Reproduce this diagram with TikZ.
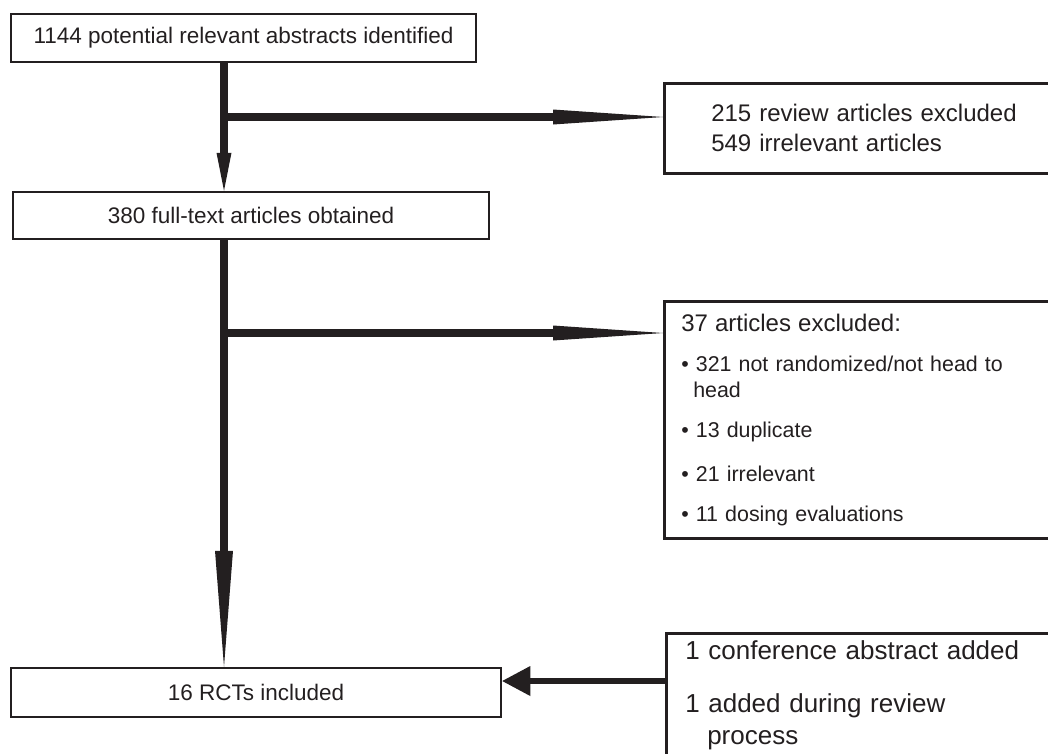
\documentclass[tikz,border=0pt]{standalone}
\usepackage{fontspec}
\setmainfont{Liberation Sans}
\usepackage{tikz}
\usetikzlibrary{arrows.meta}
\definecolor{ink}{HTML}{231F20}

\begin{document}
\begin{tikzpicture}[x=1pt,y=-1pt]
	\tikzstyle{box}=[rectangle,draw=ink,line width=2.5pt,inner sep=0pt,text=ink,font=\fontsize{22.5}{27}\selectfont]
	\tikzstyle{sidebox}=[box,anchor=north west,align=left,font=\fontsize{24}{30}\selectfont]
	\tikzstyle{flow}=[draw=ink,line width=8pt]
	\tikzstyle{shorttip}=[-{Triangle[length=38pt,width=15pt,line width=0pt]}]
	\tikzstyle{longtip}=[-{Triangle[length=116pt,width=18pt,line width=0pt]}]
	\tikzstyle{sidetip}=[-{Triangle[length=110pt,width=15pt,line width=0pt]}]
	\useasboundingbox (0,0) rectangle (1048,753);
	\clip (0,0) rectangle (1048,753);
	\node (abstracts) at (243.5,38) [box,minimum width=465pt,minimum height=48pt] {1144 potential relevant abstracts identified};
	\node (fulltext) at (251,215.5) [box,minimum width=476pt,minimum height=47pt] {380 full-text articles obtained};
	\node (included) at (256,692.5) [box,minimum width=490pt,minimum height=49pt] {16 RCTs included};
	\node (review) at (663,82) [sidebox,text width=330pt,minimum height=90pt,inner xsep=47pt] {215 review articles excluded\\549 irrelevant articles};
	\node (excluded) at (663,300) [sidebox,text width=360pt,minimum height=237pt,inner xsep=17pt,font=\fontsize{21.4}{26}\selectfont] {
		{\fontsize{24}{26}\selectfont 37 articles excluded:}\\[14pt]
		\textbullet\ 321 not randomized/not head to\\
		\hspace*{12pt}head\\[14pt]
		\textbullet\ 13 duplicate\\[18pt]
		\textbullet\ 21 irrelevant\\[14pt]
		\textbullet\ 11 dosing evaluations
	};
	\node (added) at (665,632) [sidebox,text width=360pt,inner xsep=19pt,inner ysep=7pt,font=\fontsize{26}{32}\selectfont] {
		1 conference abstract added\\[21pt]
		1 added during review\\
		\hspace*{22pt}process
	};
	\coordinate (stem) at (224,0);
	\coordinate (split1) at (224,117);
	\coordinate (split2) at (224,333);
	\coordinate (feed) at (580,681);
	\draw [flow,shorttip] (stem |- abstracts.south) -- (stem |- fulltext.north);
	\draw [flow,sidetip] (split1) -- (split1 -| review.west);
	\draw [flow,longtip] (stem |- fulltext.south) -- (stem |- included.north);
	\draw [flow,sidetip] (split2) -- (split2 -| excluded.west);
	\draw [flow,line width=6pt,-{Triangle[length=28pt,width=30pt,line width=0pt]}] (feed -| added.west) -- (feed -| included.east);
\end{tikzpicture}
\end{document}
